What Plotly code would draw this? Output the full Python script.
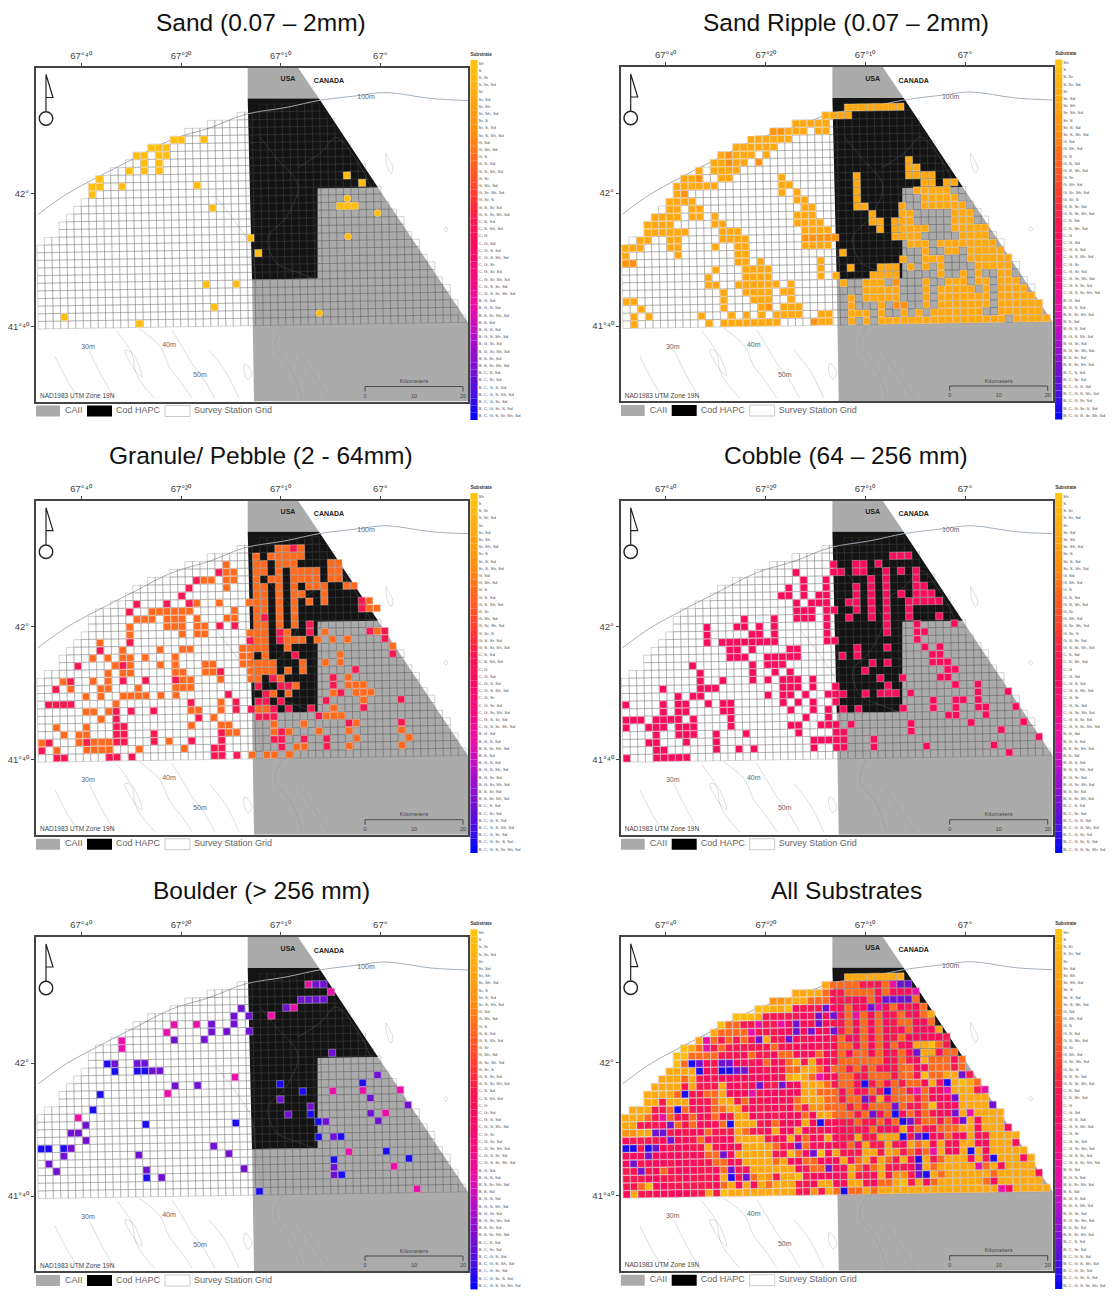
import plotly.graph_objects as go

# ---------- legend classes ----------
SUBSTRATE_CLASSES = ["Sh","S","S, Sr","S, Sr, Sd","Sr","Sr, Sd","Sr, Sh","Sr, Sh, Sd","Sr, S","Sr, S, Sd",
 "Sr, S, Sh, Sd","G, Sd","G, Sh, Sd","G, S","G, S, Sd","G, S, Sh, Sd","G, Sr","G, Sh, Sd","G, Sr, Sh, Sd","G, Sr, S",
 "G, S, Sr, Sd","G, S, Sr, Sh, Sd","C, S, Sd","C, S, Sh, Sd","C, G","C, G, Sd","C, G, S, Sd","C, G, S, Sh, Sd","C, G, Sr","C, G, Sr, Sd",
 "C, G, Sr, Sh, Sd","C, G, S, Sr, Sd","C, G, S, Sr, Sh, Sd","B, G, Sd","B, G, S, Sd","B, S, Sr, Sh, Sd","B, S, Sd","B, G, S, Sd","B, G, S, Sh, Sd","B, G, Sr, Sd",
 "B, G, Sr, Sh, Sd","B, S, Sr, Sd","B, S, Sr, Sh, Sd","B, C, S, Sd","B, C, Sr, Sd","B, C, G, S, Sd","B, C, G, S, Sh, Sd","B, C, G, Sr, Sd","B, C, G, Sr, S, Sd","B, C, G, S, Sr, Sh, Sd"]

CLASS_RAMP = [[0,"#FFC20E"],[5,"#FFA812"],[10,"#FF8C10"],[13,"#FF6A1E"],[18,"#FF4030"],[22,"#F81850"],[25,"#F80C5C"],
              [30,"#F40C80"],[34,"#E810A8"],[38,"#B010C8"],[43,"#7010D0"],[46,"#4810E0"],[49,"#0808F8"]]

# ---------- survey grid: first/last column of each row (row 0 = south) ----------
GRID_FIRST_COL = [0,0,0,0,0,0,0,0,0,0,0,1,3,3,4,5,6,7,7,8,10,12,13,15,18,20,23,27,30]
GRID_LAST_COL  = [56,55,55,54,54,53,52,52,51,50,50,49,48,48,47,46,45,45,44,43,43,42,41,41,40,39,39,38,37]

# ---------- cells per panel: {row: "columns"} ----------
SAND_CELLS = {0:"13",1:"3,37",2:"23",5:"22,26",9:"29",11:"28,41",14:"45",15:"23,40-42",16:"41",17:"7",18:"7,8,11,21,43",
              19:"8,41",20:"12,14,16",21:"14,16",22:"13,14,16,17",23:"15-17",24:"18,19,22"}
SAND_ROUND_CELLS = {1:"37",11:"41",14:"45",16:"41"}
RIPPLE_CELLS = {0:"1,11,13-20,26,27,30,32,34-50,52-56",1:"1,3,10,14,16,18,20-23,26,27,30-32,34,37,39,41-47,50-55",
 2:"2,13,18,21-23,30,34,40,42-48,50-55",3:"0,1,13,17-19,22,30,32-36,40,42-48,50-54",4:"13,16-19,21,22,32-36,40,42-46,48,50-53",
 5:"11,12,15-20,22,29,32-34,40,43-45,47,48,50-52",6:"11,16-19,26,28,33-36,42,45,47,50,51",7:"12,16-19,26,30,34-36,38,40,42,47-51",
 8:"15,16,18,26,37,40-42,46-51",9:"0,7,15,16,29,40,43,44,46-50",10:"0-2,6,7,12,15,16,24-27,38-40,42-49",11:"2,3,6,7,13-16,36-39,45-48",
 12:"3-8,13-15,24-27,34,36-40,44-48",13:"3-6,12,13,23-26,33,34,36-38,44-46",14:"4-7,9,10,12,23-25,33,37,38,44-46",
 15:"6,7,9,10,24,25,31,32,37,40-45",16:"6-9,23,24,31,40-44",17:"7,21,23,31,39-43",18:"7-12,21,22,31,40,41,43,44",
 19:"8,9,13,14,21,31,38-41",20:"10,12-15,38,39",21:"12,13,15,16,38",22:"13,15-17,19",23:"15-20",24:"17-22",25:"22-24,26,27",
 26:"23-27",27:"27-30",28:"30-37"}
RIPPLE_DEEP_CELLS = {0:"25",2:"19,36,37",5:"36",8:"0,1",11:"24-28",17:"8",19:"10",21:"14,18",22:"14",25:"20,21"}
GRANULE_ORANGE = {0:"28,30,31,33",1:"2,6-9,13,19,34,35,41,48",2:"0,5,7-9,17,42,49",3:"3,5,6,25,26,31,33,37,41,48",4:"2,6,20,24,25,31,35,42",
 5:"8,23,38-40",6:"6,7,9,20,21,24,29,30,39",7:"10,24,43",8:"6,8,11-14,16,18,31,33,39,42-44",9:"4,8,9,13,18-20,34,41-43",
 10:"3,7,9,19,20,24,28,29,32,41",11:"9,11,12,18,19,22,23,28-31,33,35",12:"10,12,16,18,22,23,27-31,35,38,40",13:"7,9,11,12,14,18,27,28,30,40",
 14:"11,16,19,20,27-30,33,47",15:"8,29,30,33-35,37,39,41",16:"12,19,21,22,28-30,33,38,45",17:"12,17-19,21,22,29,30,32,34",
 18:"13-15,17-19,21,25,26,29,32,34",19:"15-20,26,29,30,32,34,44,45",20:"21,24,28-30,32,34,36,38,44",21:"29,30,32,34,35,38",
 22:"25,29,30,32,34,36-38,41,42",23:"22,23,25,26,29,31,32,34-37,39,40",24:"25,26,29,30,32,34-37,39,40",25:"25,29,30,32-34,39,40",26:"29,31-35",27:"32,33,35"}
GRANULE_RED = {0:"2,3,9,10,12,23,24,26",1:"0,23,24,32,38",2:"1,6,10,11,15,20,24,31,32,35,38",3:"10,11,15,24,32",4:"10,11,41,48",5:"10,21,29-31,37",
 6:"10,12,15,26,28,31,33,36,43",7:"1-4,20,26,29,30,32,38,48",8:"25,30,40",9:"2,29,32,33,39",10:"4,11,14,18,31,39",11:"24,42",12:"5,11",13:"34,47",
 14:"8",15:"12,28,32,46",16:"32,36,44,46",17:"24,26,36",18:"30",19:"12,43",20:"13,17,20,43",21:"19",22:"20",23:"21",24:"24",27:"34"}
COBBLE_CELLS = {0:"0,4-8,51",1:"4,5,12,15,17,25,28,29,33,40,49",2:"3,4,8,12,25-29,33,55",3:"4,7-9,12,16,23,28,29,38,50",
 4:"0,3-5,7-9,14,22,23,26-28,30,38,46,53",5:"0-2,4-7,9,14,24,27,43,44,48",6:"5,7,8,13,14,22,25,27,29,31,37,41,44,47,48,52",
 7:"0,5,7,8,11,13,14,21,23,25,28,41,44,45,47",8:"7,9,10,19,21,22,24,27-29,32,34-36,38,47,51",9:"5,10-12,21-23,25,28,35,44,47",
 10:"10,13,17,19,21-23,25,34,37,42,43",11:"10,17,20,22,32,43,44",12:"9,17,19-21,33,35,41-43",13:"14-16,19-23,29,31,41,42",
 14:"14,15,17,22,23,31,35,40,42",15:"11,13-20,27,28,39",16:"11,17,18,20,27,35,39,40",17:"11,15,16,18,20,27,35,39,44",
 18:"16,20,23-25,27,30,33,35,38,42",19:"23-25,27,28,31,33,35,38",20:"23,25-27,30,31,33,35,38-42",21:"21,22,24,26,27,31,33,35,37,39-41",
 22:"22,24,27,31,33,35,39,40",23:"24,27,33,35,39",24:"23,28,29,31,32,35,37,39",25:"28,31,32,34",26:"36-38"}
BOULDER_BLUE = {0:"29",2:"14,40",4:"39,49",5:"46",6:"0,1,3",7:"37,40",9:"14,26,37",10:"36",11:"7",13:"8,35",14:"32,43",16:"10,13,14",17:"9"}
BOULDER_PURPLE = {2:"16,39",3:"2,14,27,39",4:"1",5:"3,13,25",6:"4,23",7:"6,39",8:"4,5",9:"6,38,45",10:"33,44",11:"36,49",12:"32,44",14:"18,21",
 15:"45",16:"15,16",17:"10,13,14",18:"39",20:"18,22",21:"23,25,28",22:"23,26",23:"26,28",24:"27,33",25:"35-38",27:"37,38"}
BOULDER_MAGENTA = {0:"50",3:"47",5:"41",10:"5,46",13:"17,39,43,48",15:"26",19:"11",20:"11",21:"17",22:"18,21",23:"31",24:"34",26:"39",27:"36"}
# extra mixed-substrate cells seen only on the "All Substrates" map
ALL_EXTRA_ORANGE = {27:"28-35",26:"27-38",25:"26-39",24:"26-39",23:"26-40",22:"14-18,26-41",21:"13-17,27-41",20:"11-16,26-37,42,43",
 19:"10-14,20,24-37,42-44",18:"9-12,21,22,26-37,43,44",17:"8-10,13,14,19,22,27-37,41-45",16:"15,16,22,23,26-38,41-46",15:"25-39,41,42",
 14:"27-39",13:"26-30,33-38",12:"28-32,36-38,41",11:"6,8,12,13,27-30,34,37-40",10:"4,6,9,12,28-30,33-40",9:"6,7,9,10,27-33,36,38-40",
 8:"26-29,38-40",5:"9,11,12",4:"4,12,13",3:"5,12,13"}
ALL_EXTRA_RED = {0:"2-10,12",1:"0,1,4-11",2:"0,2,3,5-12",3:"0,1,3,4,6-11,14,15,35-38",4:"0-3,5-11,14,15,33,36",5:"0-8,10,13,20,21,29,34,39",
 6:"0-2,5-9,12-14,21,23,27,31,34,41",7:"3,5-7,9,12-14,19-21,25,30,33,39,42",8:"4,6,8-10,12-14,17-19,26,27,31,41",9:"3-5,8,11,12,14,18,19,27,30,33,42",
 10:"5,7,8,10,11,17-21,31,36,41",11:"4,5,7,9-11,16-22,30,38,39",12:"5,9-11,15,17-22,29,33,39",13:"9,10,15-22,32,38",14:"10-12,14,16-23,28,33,37",
 15:"10-21,31,36",16:"10-14,17-21,30,32,34",17:"11,12,15-18,20,21,26-28,36,38",18:"13-16,18-20,23-25,27,28,36",19:"14-19,21,22,24-28,37",
 20:"15,17,18,20-22,24-28,36",21:"18-23,25-29,36,40",22:"16,17,19-29,36,40",23:"19-29,36,38,39",24:"23-29,33,34,37,38",25:"28-30,32",26:"28,29,34,39",27:"32,33"}

# ---------- map geography, in map units of the frame ----------
CAII_NORTH_X = [211.7,262,283,211.7]; CAII_NORTH_Y = [0,0,31,31]
CAII_MAIN_X = [281.7,342,432,432,218,216,281.7]; CAII_MAIN_Y = [121,120,255,334,334,212,211]
HAPC_X = [211.7,283,342,281.7,281.7,216]; HAPC_Y = [31,31,120,121,211,212]
DEPTH_100_X = [2,30,61,100,136,175,209,250,283,323,350,395,432]; DEPTH_100_Y = [147,127,110,90,72,60,47,40,33,28,25,31,33]
CONTOURS = [
 ([81,96,99,106,119],[264,286,303,316,331]),
 ([89,96,106,100,89],[283,285,309,304,283]),
 ([103,124,133,146,156],[261,279,299,316,331]),
 ([136,146,156,166,179],[263,279,296,309,331]),
 ([173,189,203],[283,303,331]),
 ([209,216,212,208,209],[296,306,312,304,296]),
 ([19,33,43],[289,316,331]),
 ([53,66,79],[283,309,331]),
 ([246,239,256,266],[259,279,303,331]),
 ([263,283,293],[286,316,331]),
 ([180,196,215,220,225],[130,150,180,215,250]),
 ([224,240,262,250,232,240,262,280],[70,90,118,150,170,195,205,212]),
 ([262,285,300,320,335],[100,85,70,92,120]),
 ([350,353,357,355,351,350],[86,92,100,106,98,86]),
 ([410,412,410,408,410],[160,162,164,162,160]),
]
LAT_TICK_POS = [126,259]; LAT_TICK_TEXT = ["42°","41°⁴⁰"]
LON_TICK_POS = [45,145,244.3,344.3]; LON_TICK_TEXT = ["67°⁴⁰","67°²⁰","67°¹⁰","67°"]
MAP_LABELS = ["<b>USA</b>","<b>CANADA</b>","100m","30m","40m","50m"]
MAP_LABEL_X = [252,293,330,52,133,164]; MAP_LABEL_Y = [12,14,30,280,278,308]
SCALE_KM = [0,10,20]; SCALE_X = [329,378,427]
KEY_LABELS = ["CAII","Cod HAPC","Survey Station Grid"]; KEY_LABEL_X = [29,80,158]

PANEL_TITLES = ["Sand (0.07 – 2mm)","Sand Ripple (0.07 – 2mm)","Granule/ Pebble (2 - 64mm)","Cobble (64 – 256 mm)","Boulder (> 256 mm)","All Substrates"]
PANEL_TITLE_X = [261,846,261,846,261,846]; PANEL_TITLE_Y = [22,22,456,456,890,890]
FRAME_LEFT = [36,620.7,36,620.7,36,620.7]; FRAME_TOP = [67.5,67,500.7,500.7,937,936.7]
FRAME_W, FRAME_H, W, H = 432, 334, 1112, 1300

# class index used by each cell group
K_BASE,K_SAND,K_RIP,K_RIPD,K_GO,K_GR,K_COB,K_BM,K_BP,K_BB = 5,1,5,9,13,22,25,34,43,48

def cols(s):
    out=[]
    for p in s.split(","):
        if not p: continue
        if "-" in p:
            a,b=p.split("-"); out+=list(range(int(a),int(b)+1))
        else: out.append(int(p))
    return out

def cells(d,k):
    return {(c,r):k for r,s in d.items() for c in cols(s)}

def cx(c,r): return 6+7.5*c-.133*r
def cy(c,r): return 257.7-7.63*r-.117*c

grid = [(c,r) for r,(a,b) in enumerate(zip(GRID_FIRST_COL,GRID_LAST_COL)) for c in range(a,b+1)]
gridset = set(grid)

sand = cells(SAND_CELLS,K_SAND)
sand_round = cells(SAND_ROUND_CELLS,K_SAND)
ripple = {**cells(RIPPLE_CELLS,K_RIP),**cells(RIPPLE_DEEP_CELLS,K_RIPD)}
granule = {**cells(GRANULE_ORANGE,K_GO),**cells(GRANULE_RED,K_GR)}
cobble = cells(COBBLE_CELLS,K_COB)
boulder = {**cells(BOULDER_MAGENTA,K_BM),**cells(BOULDER_PURPLE,K_BP),**cells(BOULDER_BLUE,K_BB)}
combined = {g:K_BASE for g in grid}
for layer in (ripple,sand,cells(ALL_EXTRA_ORANGE,K_GO),granule,cells(ALL_EXTRA_RED,K_GR),cobble,boulder):
    combined.update({g:k for g,k in layer.items() if g in gridset})
PANEL_CELLS = [sand,ripple,granule,cobble,boulder,combined]

colorscale = [[i/49,col] for i,col in CLASS_RAMP]
fig = go.Figure()
GREY,TXT = "#ABABAB","#555555"
FONT = "Liberation Sans"

def add(suffix,**kw):
    tr = go.Scatter(showlegend=False,hoverinfo="skip",**kw)
    tr.xaxis="x"+suffix; tr.yaxis="y"+suffix
    fig.add_trace(tr)

for i in range(6):
    s = "" if i==0 else str(i+1)
    ls = str(i+7)   # class ramp subplot
    ks = str(i+13)  # area key subplot
    l,t = FRAME_LEFT[i],FRAME_TOP[i]
    fig.layout["xaxis"+s] = dict(domain=[l/W,(l+FRAME_W)/W],range=[0,FRAME_W],anchor="y"+s,side="top",showgrid=False,zeroline=False,
        showline=True,mirror=True,linecolor="#444444",linewidth=2,ticks="outside",ticklen=3,tickcolor="#444",
        tickvals=LON_TICK_POS,ticktext=LON_TICK_TEXT,tickfont=dict(size=9.5,color="#444",family=FONT),tickangle=0)
    fig.layout["yaxis"+s] = dict(domain=[1-(t+FRAME_H)/H,1-t/H],range=[FRAME_H,0],anchor="x"+s,showgrid=False,zeroline=False,
        showline=True,mirror=True,linecolor="#444444",linewidth=2,ticks="outside",ticklen=3,tickcolor="#444",
        tickvals=LAT_TICK_POS,ticktext=LAT_TICK_TEXT,tickfont=dict(size=9.5,color="#444",family=FONT))
    fig.layout["xaxis"+ls] = dict(domain=[(l+433)/W,(l+433+58)/W],range=[433,491],anchor="y"+ls,visible=False)
    fig.layout["yaxis"+ls] = dict(domain=[1-(t+355)/H,1-(t-20)/H],range=[355,-20],anchor="x"+ls,visible=False)
    fig.layout["xaxis"+ks] = dict(domain=[l/W,(l+330)/W],range=[0,330],anchor="y"+ks,visible=False)
    fig.layout["yaxis"+ks] = dict(domain=[1-(t+352)/H,1-(t+336)/H],range=[352,336],anchor="x"+ks,visible=False)
    # areas
    add(s,x=CAII_NORTH_X+CAII_NORTH_X[:1],y=CAII_NORTH_Y+CAII_NORTH_Y[:1],mode="lines",fill="toself",fillcolor=GREY,line=dict(width=0))
    add(s,x=CAII_MAIN_X+CAII_MAIN_X[:1],y=CAII_MAIN_Y+CAII_MAIN_Y[:1],mode="lines",fill="toself",fillcolor=GREY,line=dict(width=0))
    add(s,x=HAPC_X+HAPC_X[:1],y=HAPC_Y+HAPC_Y[:1],mode="lines",fill="toself",fillcolor="#141414",line=dict(width=0))
    # bathymetry
    for cxs,cys in CONTOURS:
        add(s,x=cxs,y=cys,mode="lines",line=dict(color="rgba(120,135,150,0.4)",width=0.7,shape="spline"))
    add(s,x=DEPTH_100_X,y=DEPTH_100_Y,mode="lines",line=dict(color="#A4B0BA",width=1,shape="spline"))
    # survey grid
    add(s,x=[cx(*g) for g in grid],y=[cy(*g) for g in grid],mode="markers",
        marker=dict(symbol="square-open",size=7.5,angle=-1,color="rgba(80,80,80,0.45)",line=dict(width=0.55,color="rgba(80,80,80,0.45)")))
    # substrate cells
    pc = PANEL_CELLS[i]
    keys = list(pc)
    symbols = ["circle" if i==0 and g in sand_round else "square" for g in keys]
    add(s,x=[cx(*g) for g in keys],y=[cy(*g) for g in keys],mode="markers",
        marker=dict(symbol=symbols,size=7.1,angle=-1,color=[pc[g] for g in keys],colorscale=colorscale,cmin=0,cmax=49,
                    line=dict(width=0.5,color="rgba(255,255,255,0.6)")))
    # map labels
    add(s,x=MAP_LABEL_X,y=MAP_LABEL_Y,mode="text",text=MAP_LABELS,
        textfont=dict(size=7,color=["#222","#222","#666","#666","#666","#666"],family=FONT))
    add(s,x=[4],y=[329],mode="text",text=["NAD1983 UTM Zone 19N"],textposition="middle right",textfont=dict(size=6.5,color="#444",family=FONT))
    # scale bar
    add(s,x=[SCALE_X[0],SCALE_X[0],SCALE_X[-1],SCALE_X[-1]],y=[324,319,319,324],mode="lines",line=dict(color="#333",width=0.8))
    add(s,x=SCALE_X,y=[329]*3,mode="text",text=[str(v) for v in SCALE_KM],textfont=dict(size=5.5,color="#444",family=FONT))
    add(s,x=[SCALE_X[1]],y=[314],mode="text",text=["Kilometers"],textfont=dict(size=6,color="#444",family=FONT))
    # north arrow
    add(s,x=[10,10,17,10],y=[44,7,30,30],mode="lines",line=dict(color="#222",width=1.2))
    add(s,x=[10],y=[51],mode="markers",marker=dict(symbol="circle",size=13.5,color="white",line=dict(color="#222",width=1.4)))
    # area key below the frame
    add(ks,x=[0,24,24,0,0],y=[338,338,349,349,338],mode="lines",fill="toself",fillcolor=GREY,line=dict(width=0))
    add(ks,x=[51,76,76,51,51],y=[338,338,349,349,338],mode="lines",fill="toself",fillcolor="#000",line=dict(width=0))
    add(ks,x=[129,154,154,129,129],y=[338,338,349,349,338],mode="lines",line=dict(color="#BBB",width=0.8))
    add(ks,x=KEY_LABEL_X,y=[343.5]*3,mode="text",text=KEY_LABELS,textposition="middle right",
        textfont=dict(size=9,color="#666",family=FONT))
    # substrate class ramp
    idx = list(range(len(SUBSTRATE_CLASSES)))
    add(ls,x=[438]*len(idx),y=[-4+7.2*k for k in idx],mode="markers",
        marker=dict(symbol="square",size=7.2,color=idx,colorscale=colorscale,cmin=0,cmax=49,line=dict(width=0)))
    add(ls,x=[442.5]*len(idx),y=[-4+7.2*k for k in idx],mode="text",text=SUBSTRATE_CLASSES,textposition="middle right",
        textfont=dict(size=4.4,color=TXT,family=FONT))
    add(ls,x=[434.5],y=[-13],mode="text",text=["<b>Substrate</b>"],textposition="middle right",
        textfont=dict(size=4.6,color="#333",family=FONT))
    fig.add_annotation(text=PANEL_TITLES[i],xref="paper",yref="paper",x=PANEL_TITLE_X[i]/W,y=1-PANEL_TITLE_Y[i]/H,
        xanchor="center",yanchor="middle",showarrow=False,font=dict(size=24.5,color="#111",family=FONT))

fig.update_layout(width=W,height=H,margin=dict(l=0,r=0,t=0,b=0),paper_bgcolor="white",plot_bgcolor="rgba(0,0,0,0)",showlegend=False)
fig.write_html("out.html",config={"displayModeBar":False},post_script="document.body.style.margin='0';document.body.style.overflow='hidden';")
